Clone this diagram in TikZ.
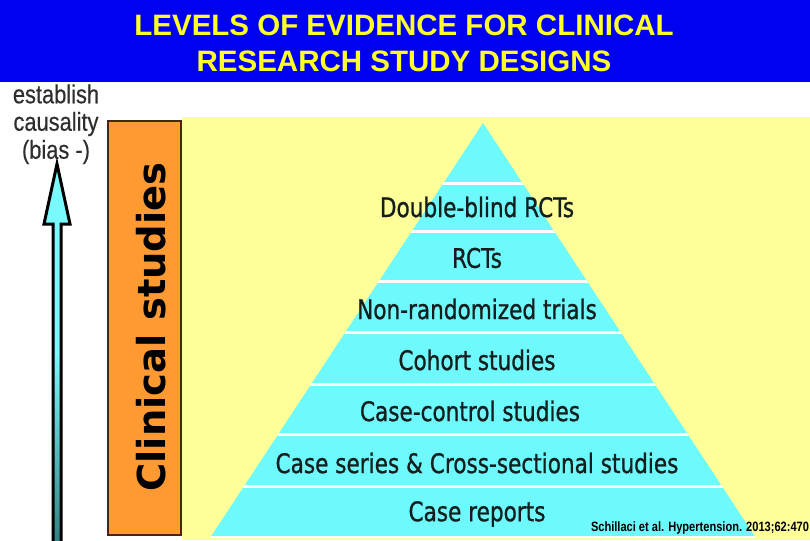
\documentclass[tikz,border=0pt]{standalone}
\usepackage{fontspec}
\setmainfont{Liberation Sans}
\newfontfamily\titlefont{Liberation Sans Bold}
\newfontfamily\pyrfont[FakeStretch=0.8,FakeBold=0.9]{DejaVu Sans}
\newfontfamily\estfont[FakeStretch=0.84,FakeBold=0.4]{Liberation Sans}
\newfontfamily\citefont[FakeStretch=0.82]{Liberation Sans Bold}
\newfontfamily\clinfont{DejaVu Sans}
\definecolor{titleblue}{RGB}{0,0,240}
\definecolor{titleyellow}{RGB}{255,255,40}
\definecolor{bgyellow}{RGB}{255,255,153}
\definecolor{boxorange}{RGB}{255,154,51}
\definecolor{boxbrown}{RGB}{70,40,15}
\definecolor{pyrcyan}{RGB}{110,250,252}
\definecolor{pyrtext}{RGB}{20,30,30}
\definecolor{arrowtop}{RGB}{120,250,255}
\definecolor{arrowbot}{RGB}{50,130,130}
\tikzset{
  layertext/.style={font=\pyrfont\fontsize{27}{30}\selectfont, text=pyrtext, inner sep=0pt, anchor=center},
  sepline/.style={white, line width=3pt},
  esttext/.style={font=\estfont\fontsize{26}{28}\selectfont, text=black!82, inner sep=0pt},
  titletext/.style={font=\titlefont\fontsize{29.5}{33}\selectfont, text=titleyellow, inner sep=0pt},
}
\begin{document}
\begin{tikzpicture}[x=1pt,y=-1pt]
\useasboundingbox (0,0) rectangle (810,540);
\fill[white] (0,0) rectangle (810,540);
% title band
\fill[titleblue] (0,0) rectangle (810,82);
\node[titletext] (t1) at (404,25) {LEVELS OF EVIDENCE FOR CLINICAL};
\node[titletext] (t2) at (404,61) {RESEARCH STUDY DESIGNS};
% yellow background
\fill[bgyellow] (182,117) rectangle (810,540);
% orange box
\draw[fill=boxorange, draw=boxbrown, line width=1.3pt] (108,121) rectangle (181,535);
\node (clin) at (151,327) [rotate=90, font=\clinfont\bfseries\fontsize{38.5}{40}\selectfont, text=black, inner sep=0pt] {Clinical studies};
% establish causality text
\node[esttext] (est1) at (56,94) {establish};
\node[esttext] (est2) at (56,124) {causality};
\node[esttext] (est3) at (56,152) {(bias -)};
% arrow
\draw[line width=3pt, draw=black, line join=miter, top color=arrowtop, bottom color=arrowbot, middle color=arrowtop]
  (53,542) -- (53,224) -- (44,224) -- (57,164) -- (70,224) -- (61,224) -- (61,542) ;
% pyramid
\coordinate (apex) at (483,123);
\coordinate (bl) at (210,538);
\coordinate (br) at (756,538);
\fill[pyrcyan] (apex) -- (br) -- (bl) -- cycle;
\begin{scope}
\clip (apex) -- (br) -- (bl) -- cycle;
\foreach \yy in {183,231,281,332,384,434,486,537} {
  \draw[sepline] (150,\yy) -- (810,\yy);
}
\end{scope}
\node[layertext] (l1) at (477,207) {Double-blind RCTs};
\node[layertext] (l2) at (477,258) {RCTs};
\node[layertext] (l3) at (477,309) {Non-randomized trials};
\node[layertext] (l4) at (477,360) {Cohort studies};
\node[layertext] (l5) at (470,411) {Case-control studies};
\node[layertext] (l6) at (477,463) {Case series \& Cross-sectional studies};
\node[layertext] (l7) at (477,514) {Case reports};
% citation
\node (cite) at (700,528) [font=\citefont\fontsize{13.5}{14}\selectfont, text=black, inner sep=0pt] {Schillaci et al. Hypertension. 2013;62:470};
\end{tikzpicture}
\end{document}
